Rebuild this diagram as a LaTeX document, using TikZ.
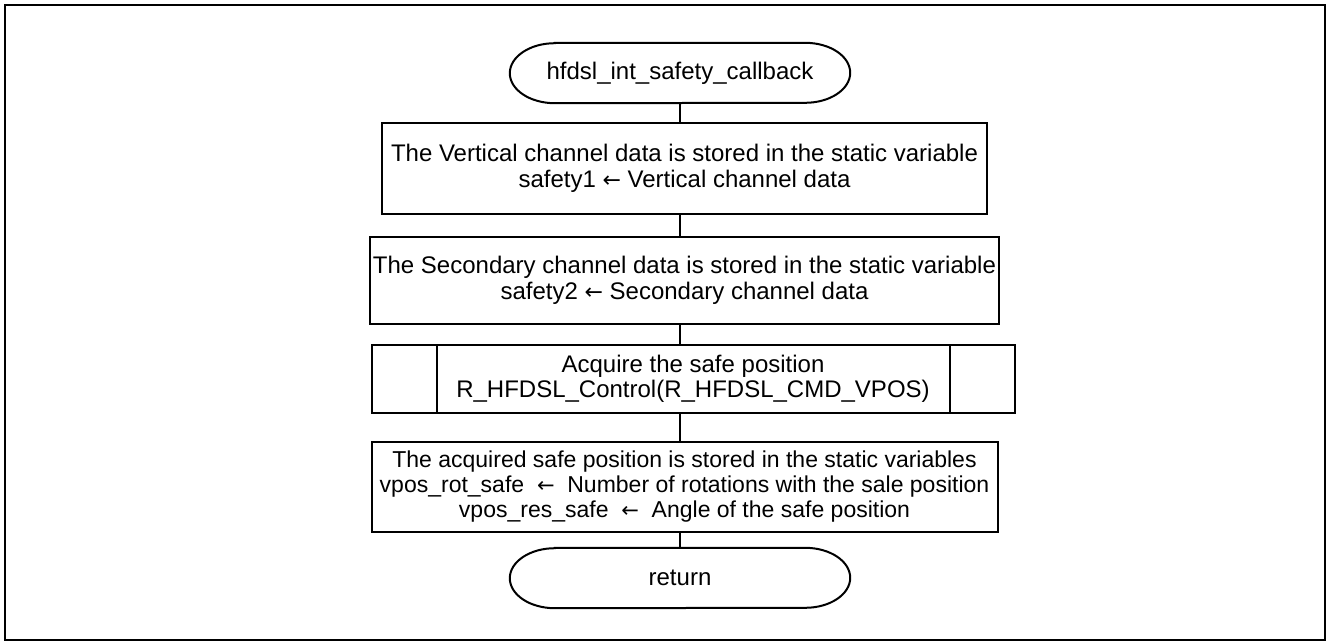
\documentclass[tikz,border=0pt]{standalone}
\usepackage{fontspec}
\setmainfont{Liberation Sans}
\newfontfamily\arrowfont{DejaVu Sans}
\newcommand{\larr}{{\arrowfont\fontsize{22}{25.5}\selectfont ←}}
\newcommand{\larrs}{{\arrowfont\fontsize{21}{25}\selectfont ←}}
\usetikzlibrary{calc}
\begin{document}
\begin{tikzpicture}[x=1pt,y=-1pt,
  every node/.style={font=\fontsize{24}{25.5}\selectfont, align=center, inner sep=0pt},
  proc/.style={draw, rectangle, line width=2pt},
  term/.style={rectangle, minimum width=340pt, minimum height=60pt},
  link/.style={line width=2pt}]
\useasboundingbox (0,0) rectangle (1328,643);
\draw[line width=2.5pt] (5,5) rectangle (1325,640);
\node[term] (start) at (680,73) {hfdsl\_int\_safety\_callback};
\draw[link] ($(start.north west)+(45,0)$) -- ($(start.north east)+(-45,0)$)
  arc[start angle=-90,end angle=90,x radius=45,y radius=30]
  -- ($(start.south west)+(45,0)$)
  arc[start angle=90,end angle=270,x radius=45,y radius=30] -- cycle;
\node[proc, minimum width=605pt, minimum height=91pt] (b1) at (684.5,168.5)
  {The Vertical channel data is stored in the static variable\\safety1 \larr{} Vertical channel data};
\node[proc, minimum width=629pt, minimum height=87pt] (b2) at (684.5,280.5)
  {The Secondary channel data is stored in the static variable\\safety2 \larr{} Secondary channel data};
\node[proc, minimum width=643pt, minimum height=68pt] (b3) at (693,379)
  {Acquire the safe position\\R\_HFDSL\_Control(R\_HFDSL\_CMD\_VPOS)};
\draw[link] ($(b3.north west)+(66,0)$) -- ($(b3.south west)+(66,0)$);
\draw[link] ($(b3.north east)+(-66,0)$) -- ($(b3.south east)+(-66,0)$);
\node[proc, minimum width=626pt, minimum height=90pt, font=\fontsize{23}{25}\selectfont] (b4) at (684.5,487)
  {The acquired safe position is stored in the static variables\\
   vpos\_rot\_safe \ \larrs{} \ Number of rotations with the sale position\\
   vpos\_res\_safe \ \larrs{} \ Angle of the safe position};
\node[term] (ret) at (680,578) {return};
\draw[link] ($(ret.north west)+(45,0)$) -- ($(ret.north east)+(-45,0)$)
  arc[start angle=-90,end angle=90,x radius=45,y radius=30]
  -- ($(ret.south west)+(45,0)$)
  arc[start angle=90,end angle=270,x radius=45,y radius=30] -- cycle;
\draw[link] (start.south) -- (start.south |- b1.north);
\draw[link] (start.south |- b1.south) -- (start.south |- b2.north);
\draw[link] (start.south |- b2.south) -- (start.south |- b3.north);
\draw[link] (start.south |- b3.south) -- (start.south |- b4.north);
\draw[link] (start.south |- b4.south) -- (ret.north);
\end{tikzpicture}
\end{document}
